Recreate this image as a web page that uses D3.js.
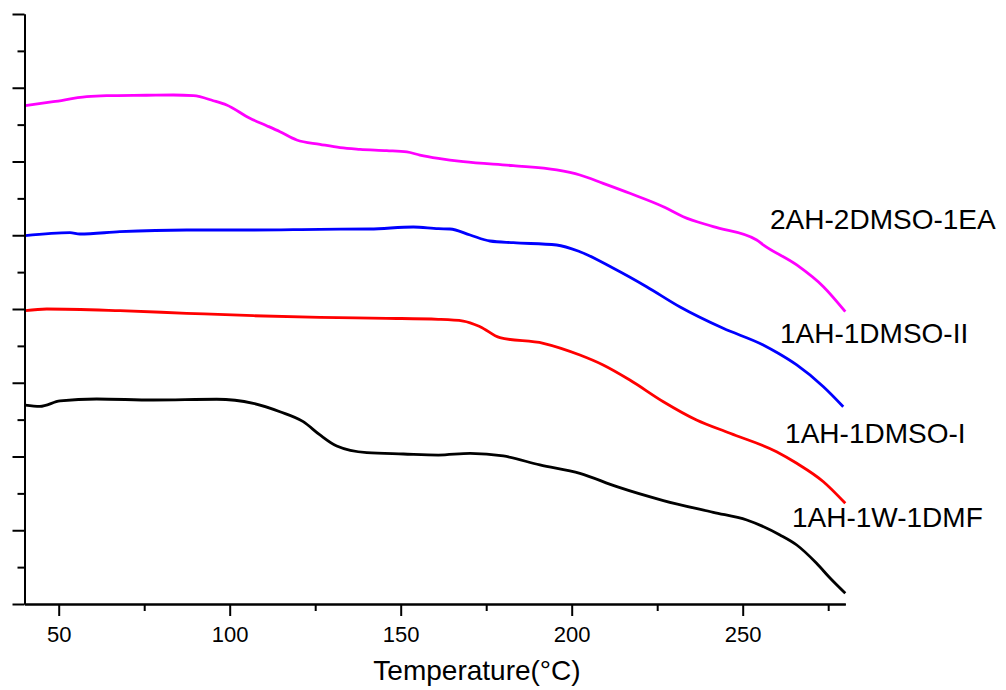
<!DOCTYPE html>
<html>
<head>
<meta charset="utf-8">
<script src="https://cdn.jsdelivr.net/npm/d3@7"></script>
<style>
    body { margin: 0; background: #fff; }
    svg { display: block; font-family: "Liberation Sans", Arial, sans-serif; }
</style>
</head>
<body>
<svg id="chart" width="1006" height="690"></svg>
<script>
/***************************************************************
    Data
****************************************************************/
// temperature (°C) and offset signal (a.u., 1 unit = one major y tick)
const temp2AH = [40.2, 48.4, 58.2, 64.0, 75.7, 83.5, 89.4, 95.2, 99.1, 105.9, 110.8, 114.7, 119.6, 126.4, 132.3, 138.1, 145.9, 151.8, 155.6, 161.0, 168.3, 182.9, 195.6, 202.4, 209.2, 217.0, 226.8, 232.6, 241.4, 254.1, 256.0, 265.8, 273.6, 280.0];
const val2AH  = [6.757, 6.811, 6.879, 6.892, 6.898, 6.902, 6.892, 6.824, 6.766, 6.586, 6.486, 6.404, 6.292, 6.233, 6.187, 6.165, 6.147, 6.129, 6.088, 6.043, 5.997, 5.943, 5.885, 5.817, 5.704, 5.569, 5.387, 5.252, 5.116, 4.936, 4.870, 4.597, 4.302, 3.963];

const tempDMSO2 = [40.2, 53.3, 56.2, 67.9, 87.4, 106.9, 126.4, 141.0, 153.7, 161.0, 164.4, 170.3, 176.1, 182.9, 195.6, 202.4, 212.2, 221.9, 231.7, 244.3, 256.0, 260.4, 265.8, 273.6, 279.4];
const valDMSO2  = [4.994, 5.035, 5.017, 5.048, 5.071, 5.071, 5.081, 5.085, 5.112, 5.089, 5.085, 5.003, 4.922, 4.899, 4.868, 4.777, 4.552, 4.302, 4.027, 3.738, 3.512, 3.399, 3.241, 2.946, 2.675];

const tempDMSO1 = [40.2, 46.5, 67.9, 87.4, 106.9, 126.4, 145.9, 161.0, 168.3, 173.2, 179.0, 191.7, 202.4, 209.2, 217.0, 226.8, 236.5, 246.3, 259.9, 265.8, 273.6, 280.0];
const valDMSO1  = [3.977, 4.000, 3.977, 3.942, 3.909, 3.887, 3.874, 3.860, 3.837, 3.760, 3.611, 3.535, 3.376, 3.241, 3.037, 2.743, 2.495, 2.315, 2.065, 1.908, 1.658, 1.365];

const tempDMF = [40.2, 44.5, 50.4, 61.1, 77.7, 96.2, 106.9, 114.7, 121.5, 126.4, 131.3, 140.1, 150.8, 161.0, 170.3, 180.0, 190.7, 202.4, 213.2, 226.8, 241.4, 251.2, 260.9, 265.8, 271.6, 275.6, 280.0];
const valDMF  = [2.698, 2.680, 2.753, 2.780, 2.766, 2.776, 2.721, 2.607, 2.472, 2.292, 2.142, 2.052, 2.034, 2.020, 2.043, 2.007, 1.885, 1.772, 1.591, 1.403, 1.243, 1.139, 0.936, 0.800, 0.552, 0.348, 0.145];

const seriesNames  = ["2AH-2DMSO-1EA", "1AH-1DMSO-II", "1AH-1DMSO-I", "1AH-1W-1DMF"];
const seriesColors = ["#ff00ff", "#0000ff", "#ff0000", "#000000"];
// label anchor (temperature, signal) for each series name
const labelTemp = [258.0, 260.9, 262.4, 264.4];
const labelVal  = [5.085, 3.539, 2.183, 1.044];

const xMajorTicks = [50, 100, 150, 200, 250];
const xMinorTicks = [75, 125, 175, 225, 275];
const yMajorTicks = [0, 1, 2, 3, 4, 5, 6, 7, 8];
const yMinorTicks = [0.5, 1.5, 2.5, 3.5, 4.5, 5.5, 6.5, 7.5];
const xTitle = "Temperature(°C)";

/***************************************************************
    Chart
****************************************************************/
window.addEventListener('load', () => { drawChart() });

function drawChart() {
    const svg = d3.select("#chart");
    svg.append("rect").attr("width", 1006).attr("height", 690).attr("fill", "#fff");

    const x = d3.scaleLinear().domain([40, 280]).range([24.5, 845.3]);
    const y = d3.scaleLinear().domain([0, 8]).range([604, 14]);

    const series = [
        { temps: temp2AH, vals: val2AH },
        { temps: tempDMSO2, vals: valDMSO2 },
        { temps: tempDMSO1, vals: valDMSO1 },
        { temps: tempDMF, vals: valDMF }
    ];

    const line = d3.line()
        .x(d => x(d[0]))
        .y(d => y(d[1]))
        .curve(d3.curveMonotoneX);

    series.forEach((s, i) => {
        svg.append("path")
            .datum(d3.zip(s.temps, s.vals))
            .attr("fill", "none")
            .attr("stroke", seriesColors[i])
            .attr("stroke-width", 2.8)
            .attr("stroke-linejoin", "round")
            .attr("d", line);
    });

    // y axis: majors + minors, no labels
    const yMajor = svg.append("g").attr("transform", "translate(24.5,0)")
        .call(d3.axisLeft(y).tickValues(yMajorTicks).tickSize(12).tickSizeOuter(0).tickFormat(""));
    const yMinor = svg.append("g").attr("transform", "translate(24.5,0)")
        .call(d3.axisLeft(y).tickValues(yMinorTicks).tickSize(7).tickSizeOuter(0).tickFormat(""));

    // x axis
    const xMajor = svg.append("g").attr("transform", "translate(0,604)")
        .call(d3.axisBottom(x).tickValues(xMajorTicks).tickSize(12).tickSizeOuter(0).tickPadding(10).tickFormat(d3.format("d")));
    const xMinor = svg.append("g").attr("transform", "translate(0,604)")
        .call(d3.axisBottom(x).tickValues(xMinorTicks).tickSize(7).tickSizeOuter(0).tickFormat(""));

    [yMajor, yMinor, xMajor, xMinor].forEach(g => {
        g.selectAll("path, line").attr("stroke", "#000").attr("stroke-width", 2);
    });
    xMajor.selectAll("text")
        .attr("fill", "#000")
        .style("font-size", "22px")
        .style("font-family", "'Liberation Sans', Arial, sans-serif");

    svg.append("text")
        .attr("x", 477).attr("y", 680)
        .attr("text-anchor", "middle")
        .style("font-size", "28px")
        .text(xTitle);

    seriesNames.forEach((name, i) => {
        svg.append("text")
            .attr("x", x(labelTemp[i]))
            .attr("y", y(labelVal[i]))
            .style("font-size", "28px")
            .attr("fill", "#000")
            .text(name);
    });
}
</script>
</body>
</html>
